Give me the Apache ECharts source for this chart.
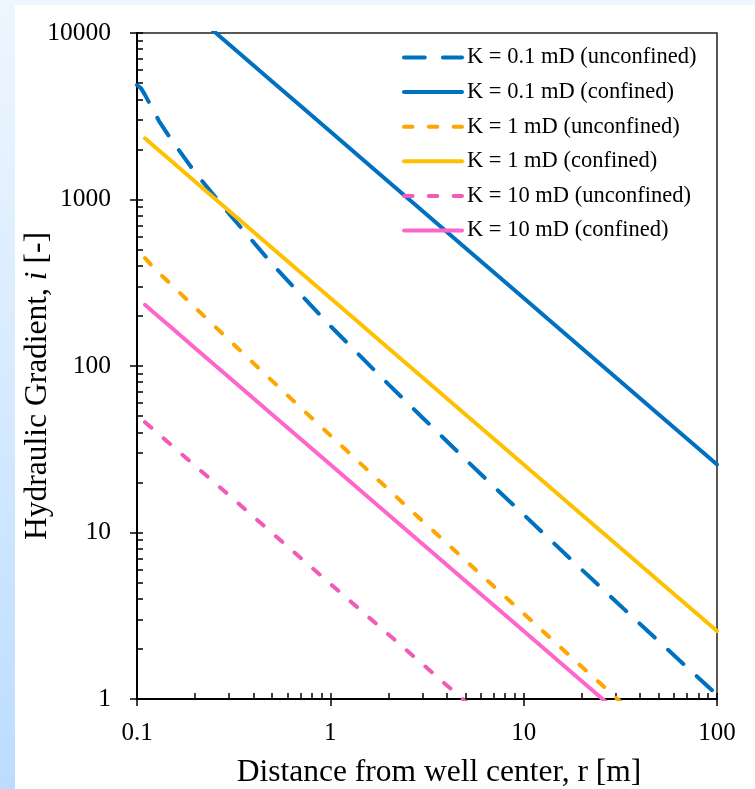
<!DOCTYPE html>
<html>
<head>
<meta charset="utf-8">
<script src="https://cdn.jsdelivr.net/npm/echarts@6/dist/echarts.min.js"></script>
<style>
  html, body { margin: 0; padding: 0; }
  body { width: 755px; height: 789px; position: relative; overflow: hidden;
         background: linear-gradient(to bottom, #eef6ff 0%, #d6eaff 50%, #bcdcff 100%); }
  #panel { position: absolute; left: 15px; top: 5px; right: 0; bottom: 0; background: #ffffff; }
  #chart { position: absolute; left: 0; top: 0; width: 755px; height: 789px; }
</style>
</head>
<body>
<div id="panel"></div>
<div id="chart"></div>
<script>
// Distance from well center, r [m]
const r = [0.1, 0.105, 0.11, 0.12, 0.13, 0.15, 0.2, 0.3, 0.5, 0.7, 1, 2, 3, 5, 7, 10, 20, 30, 50, 70, 100];
// Hydraulic gradient i [-]
const k01Unconfined = [4870, 4650, 4250, 3520, 2960, 2300, 1450, 820, 410, 270, 174, 77.6, 48.9, 27.5, 18.9, 12.8, 5.98, 3.85, 2.22, 1.55, 1.06];
const k01Confined   = [null, null, 23300, 21300, 19700, 17100, 12800, 8530, 5120, 3660, 2560, 1280, 853, 512, 366, 256, 128, 85.3, 51.2, 36.6, 25.6];
const k1Unconfined  = [null, null, 445, 397, 362, 309, 224, 143, 81.4, 56.4, 38.3, 18.1, 11.7, 6.80, 4.75, 3.26, 1.56, 1.02, 0.60, 0.42, 0.29];
const k1Confined    = [null, null, 2330, 2130, 1970, 1710, 1280, 853, 512, 366, 256, 128, 85.3, 51.2, 36.6, 25.6, 12.8, 8.53, 5.12, 3.66, 2.56];
const k10Unconfined = [null, null, 46.0, 42.1, 38.9, 33.6, 25.1, 16.7, 9.93, 7.06, 4.92, 2.44, 1.62, 0.965, 0.686, null, null, null, null, null, null];
const k10Confined   = [null, null, 233, 213, 197, 171, 128, 85.3, 51.2, 36.6, 25.6, 12.8, 8.53, 5.12, 3.66, 2.56, 1.28, 0.853, null, null, null];

const seriesNames = ['K = 0.1 mD (unconfined)', 'K = 0.1 mD (confined)', 'K = 1 mD (unconfined)',
                     'K = 1 mD (confined)', 'K = 10 mD (unconfined)', 'K = 10 mD (confined)'];

// tick values
const xMinorTicks = [0.1,0.2,0.3,0.4,0.5,0.6,0.7,0.8,0.9,1,2,3,4,5,6,7,8,9,10,20,30,40,50,60,70,80,90,100];
const yMinorTicks = [1,2,3,4,5,6,7,8,9,10,20,30,40,50,60,70,80,90,100,200,300,400,500,600,700,800,900,
                     1000,2000,3000,4000,5000,6000,7000,8000,9000,10000];

function pairs(vals) {
  const out = [];
  vals.forEach((v, i) => { if (v !== null) out.push([r[i], v]); });
  return out;
}

const FONT = 'Liberation Serif';
const BLUE = '#0070C0', YELLOW = '#FFC000', ORANGE = '#FFA500', PINK = '#FF66CC', PINKD = '#F05AB8';
const LONG_DASH = [20.8, 18.1], SHORT_DASH = [8.5, 16.3];

function line(name, vals, color, dash) {
  return {
    name: name, type: 'line', data: pairs(vals), symbol: 'none', smooth: false,
    xAxisIndex: 0, yAxisIndex: 0,
    lineStyle: { color: color, width: 4, type: dash || 'solid', cap: 'round' },
    itemStyle: { color: color, opacity: 0 },
    emphasis: { disabled: true }
  };
}

const chart = echarts.init(document.getElementById('chart'), null, { renderer: 'canvas' });
chart.setOption({
  animation: false,
  backgroundColor: 'transparent',
  grid: { left: 137, top: 33, right: 38, bottom: 90, outerBoundsMode: 'none', containLabel: false,
          show: true, borderColor: '#222', borderWidth: 1.5, backgroundColor: 'transparent' },
  legend: {
    data: seriesNames, orient: 'vertical', left: 397, top: 41,
    itemWidth: 58, itemHeight: 14, itemGap: 11.6,
    itemStyle: { opacity: 0 },
    lineStyle: { width: 4, cap: 'round' },
    textStyle: { fontFamily: FONT, fontSize: 22.5, color: '#000' },
    selectedMode: false
  },
  xAxis: [{
    type: 'log', logBase: 10, min: 0.1, max: 100,
    name: 'Distance from well center, r [m]', nameLocation: 'middle', nameGap: 58, nameMoveOverlap: false,
    nameTextStyle: { fontFamily: FONT, fontSize: 31.5, color: '#000', padding: [0, 0, 0, 24] },
    axisLine: { show: true, onZero: false, lineStyle: { color: '#000', width: 2 } },
    axisTick: { show: true, inside: false, length: 7, lineStyle: { color: '#000', width: 1.5 } },
    axisLabel: { fontFamily: FONT, fontSize: 25, color: '#000', margin: 22,
                 formatter: v => (v < 1 ? Number(v).toFixed(1) : String(Math.round(v))) },
    splitLine: { show: false }
  }, {
    type: 'log', logBase: 10, min: 0.1, max: 100, position: 'bottom',
    axisLine: { show: false },
    axisTick: { show: true, inside: true, length: 6, customValues: xMinorTicks, lineStyle: { color: '#000', width: 1.5 } },
    axisLabel: { show: false },
    splitLine: { show: false }
  }],
  yAxis: [{
    type: 'log', logBase: 10, min: 1, max: 10000, position: 'left',
    name: 'Hydraulic Gradient, {it|i} [-]', nameLocation: 'middle', nameGap: 83, nameMoveOverlap: false,
    nameTextStyle: { fontFamily: FONT, fontSize: 31.5, color: '#000', padding: [0, 40, 0, 0],
                     rich: { it: { fontFamily: FONT, fontSize: 31.5, fontStyle: 'italic', color: '#000' } } },
    axisLine: { show: true, onZero: false, lineStyle: { color: '#000', width: 2 } },
    axisTick: { show: true, inside: false, length: 7, lineStyle: { color: '#000', width: 1.5 } },
    axisLabel: { fontFamily: FONT, fontSize: 25.5, color: '#000', margin: 26,
                 formatter: v => String(Math.round(v)) },
    splitLine: { show: false }
  }, {
    type: 'log', logBase: 10, min: 1, max: 10000, position: 'left',
    axisLine: { show: false },
    axisTick: { show: true, inside: true, length: 6, customValues: yMinorTicks, lineStyle: { color: '#000', width: 1.5 } },
    axisLabel: { show: false },
    splitLine: { show: false }
  }],
  series: [
    line(seriesNames[0], k01Unconfined, BLUE, LONG_DASH),
    line(seriesNames[1], k01Confined, BLUE),
    line(seriesNames[2], k1Unconfined, ORANGE, SHORT_DASH),
    line(seriesNames[3], k1Confined, YELLOW),
    line(seriesNames[4], k10Unconfined, PINKD, SHORT_DASH),
    line(seriesNames[5], k10Confined, PINK)
  ]
});
</script>
</body>
</html>
